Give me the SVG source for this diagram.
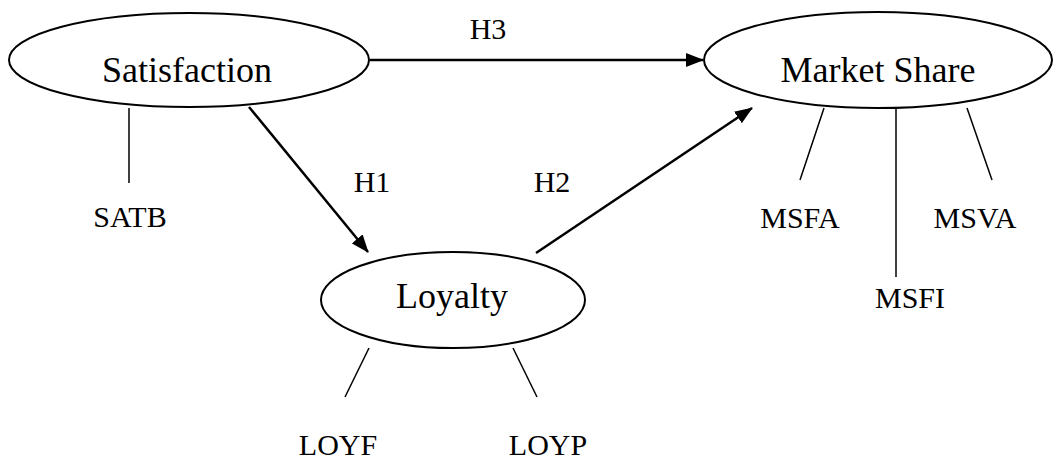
<svg xmlns="http://www.w3.org/2000/svg" width="1055" height="460" viewBox="0 0 1055 460">
<style>
.node{fill:#fff;stroke:#000;stroke-width:2}
.big{font-family:"Liberation Serif","Times New Roman",serif;font-size:36px;fill:#000;text-anchor:middle}
.sm{font-family:"Liberation Serif","Times New Roman",serif;font-size:30px;fill:#000;text-anchor:middle}
.ln{stroke:#000;stroke-width:2.5;fill:none}
.thin{stroke:#000;stroke-width:1.5;fill:none}
</style>
<defs>
<marker id="ah" markerWidth="18" markerHeight="14" refX="17" refY="7" orient="auto" markerUnits="userSpaceOnUse">
<path d="M0,0 L18,7 L0,14 Z" fill="#000"/>
</marker>
</defs>
<rect width="1055" height="460" fill="#fff"/>
<g id="connectors">
<line class="ln" x1="370" y1="60" x2="703" y2="60" marker-end="url(#ah)"/>
<line class="ln" x1="249" y1="107" x2="368" y2="252" marker-end="url(#ah)"/>
<line class="ln" x1="536" y1="253" x2="752" y2="108" marker-end="url(#ah)"/>
<line class="thin" x1="129" y1="108" x2="129" y2="183"/>
<line class="thin" x1="369" y1="348" x2="345" y2="397"/>
<line class="thin" x1="513" y1="348" x2="537" y2="397"/>
<line class="thin" x1="824" y1="108" x2="800" y2="180"/>
<line class="thin" x1="896" y1="108" x2="896" y2="277"/>
<line class="thin" x1="967" y1="108" x2="992" y2="180"/>
<text class="sm" x="488" y="39">H3</text>
<text class="sm" x="372" y="192">H1</text>
<text class="sm" x="552" y="192">H2</text>
</g>
<g id="satisfaction">
<ellipse class="node" cx="189" cy="60" rx="180" ry="47"/>
<text class="big" x="187" y="82">Satisfaction</text>
</g>
<g id="marketshare">
<ellipse class="node" cx="878" cy="60" rx="174" ry="48"/>
<text class="big" x="878" y="82">Market Share</text>
</g>
<g id="loyalty">
<ellipse class="node" cx="453" cy="300" rx="132" ry="48"/>
<text class="big" x="452" y="308">Loyalty</text>
</g>
<g id="satb"><text class="sm" x="130" y="227">SATB</text></g>
<g id="loyf"><text class="sm" x="338" y="455">LOYF</text></g>
<g id="loyp"><text class="sm" x="548" y="455">LOYP</text></g>
<g id="msfa"><text class="sm" x="800" y="228">MSFA</text></g>
<g id="msfi"><text class="sm" x="910" y="308">MSFI</text></g>
<g id="msva"><text class="sm" x="975" y="228">MSVA</text></g>
</svg>
